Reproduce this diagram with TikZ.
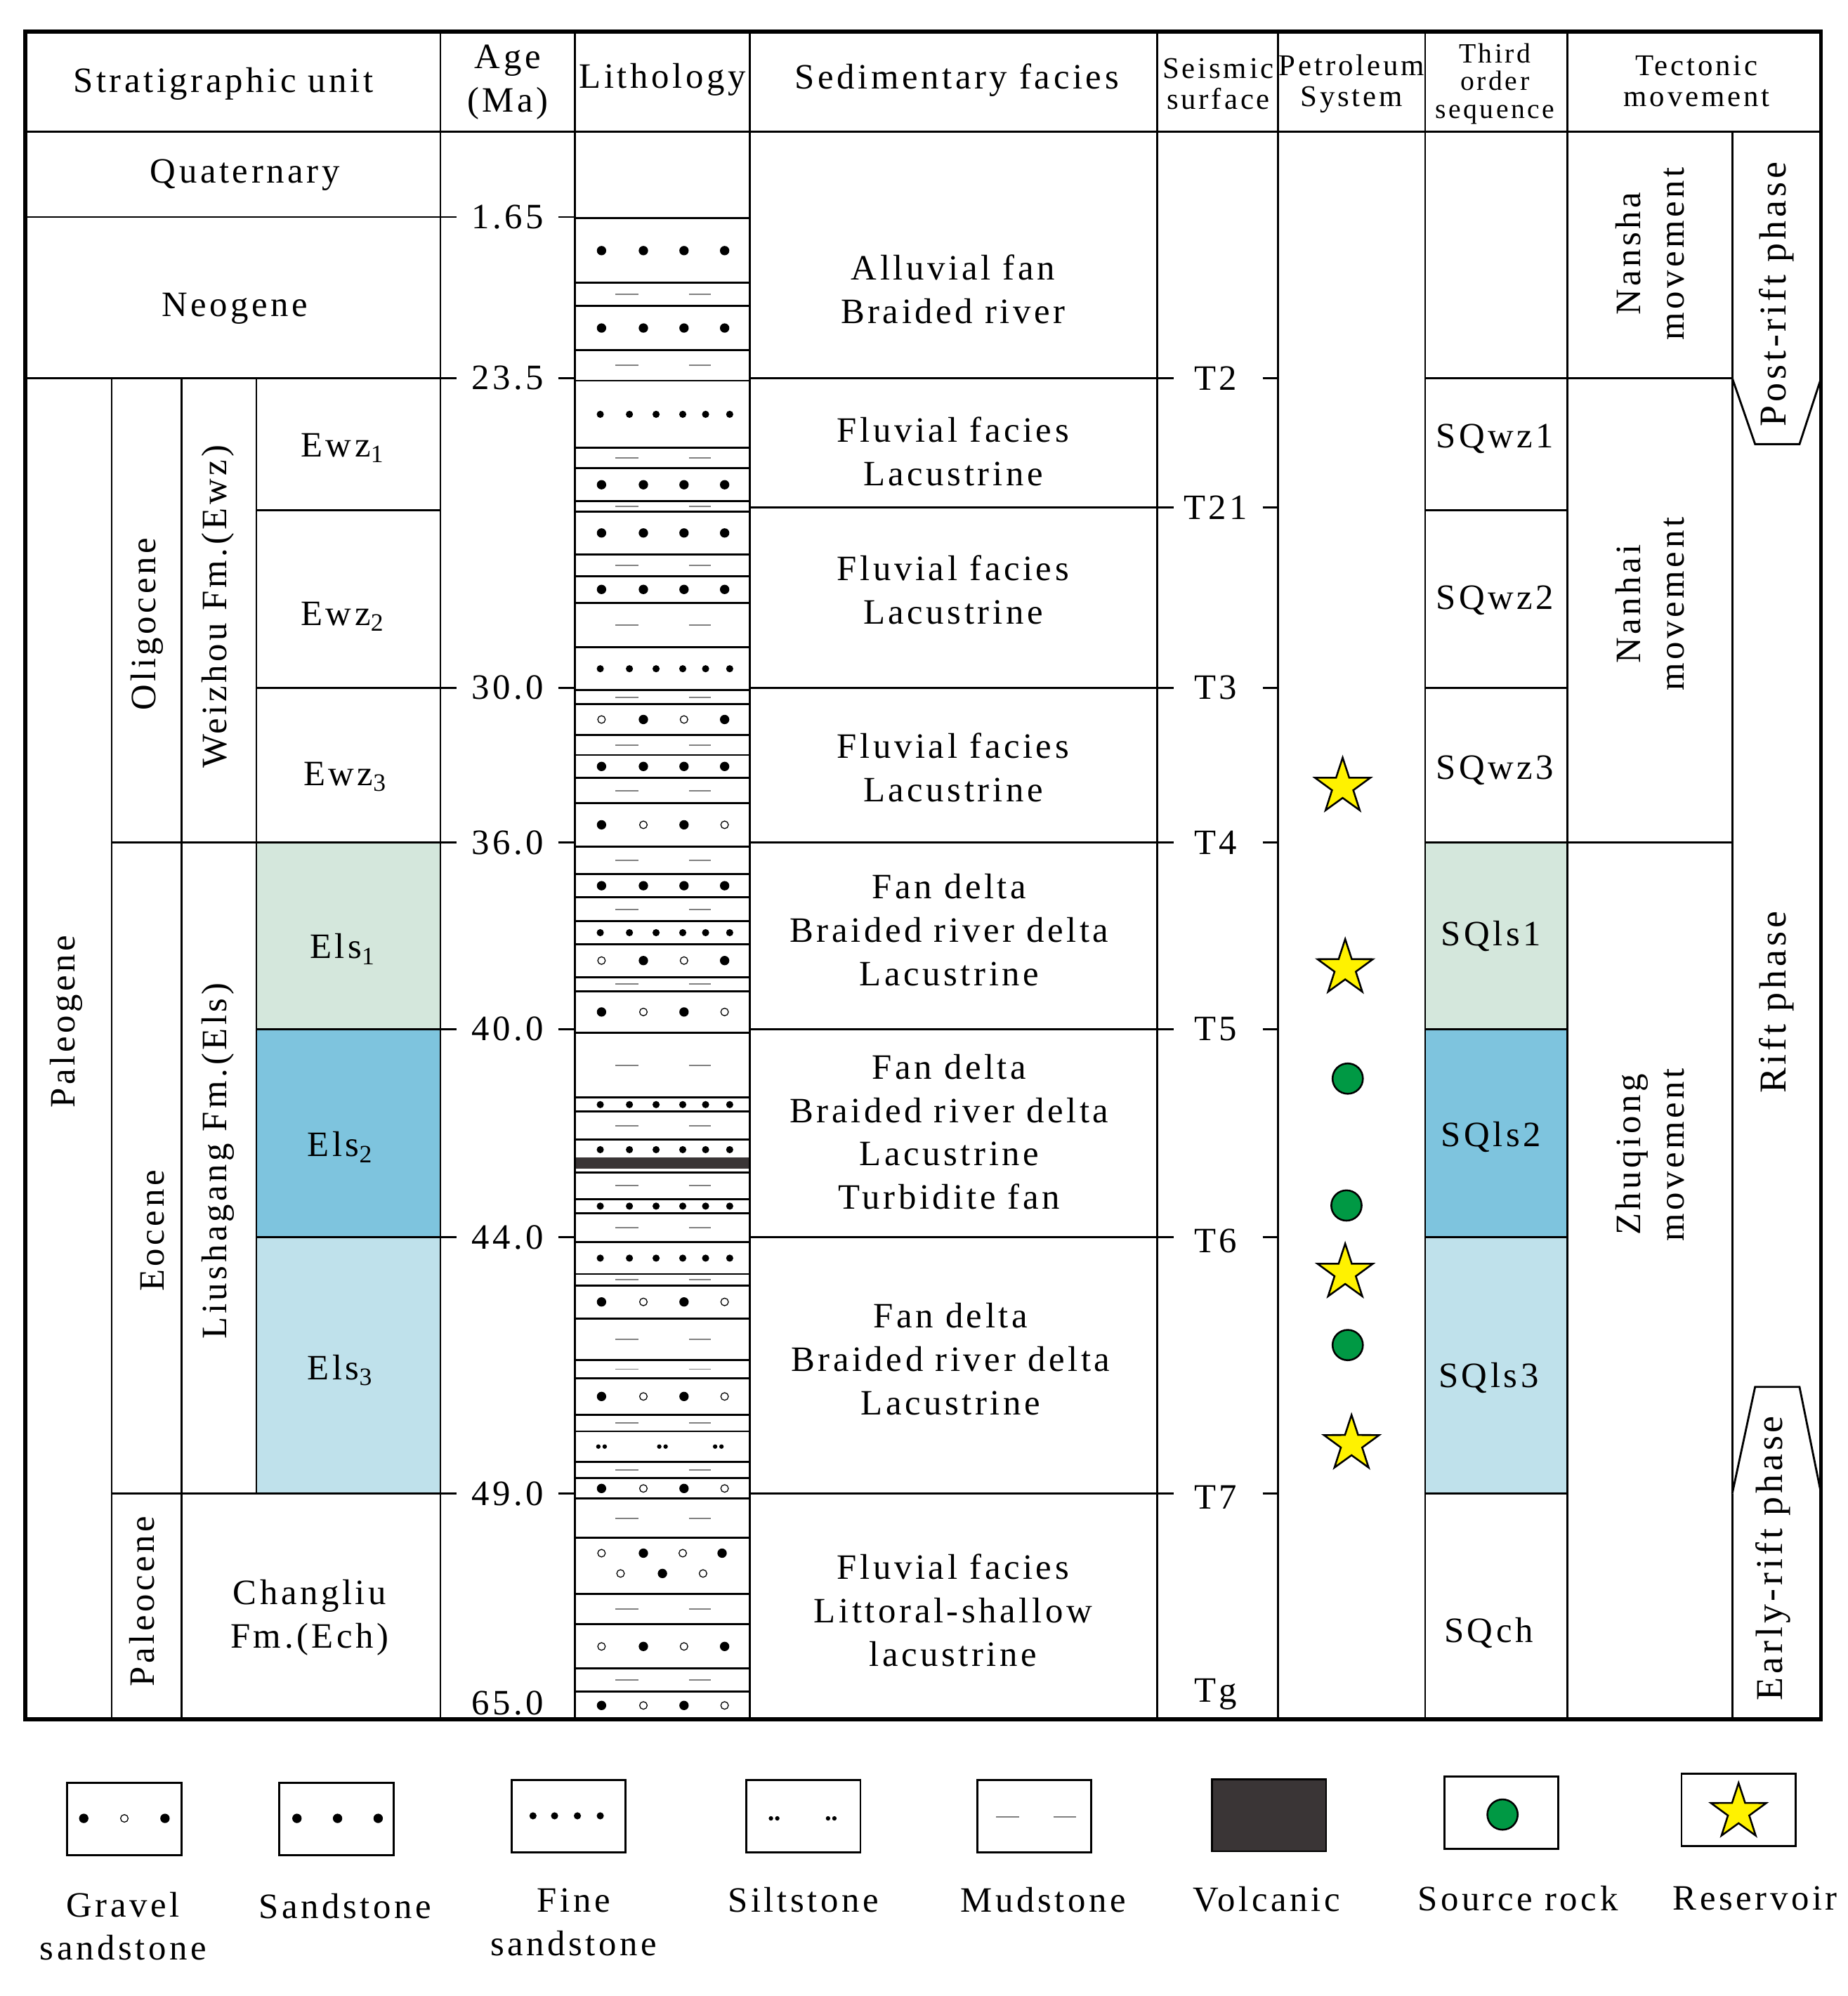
\documentclass[tikz,border=0pt]{standalone}
\usepackage{fontspec}
\setmainfont[LetterSpace=9]{Liberation Serif}
\usetikzlibrary{shapes.geometric}
\definecolor{cA}{HTML}{D4E7DC}
\definecolor{cB}{HTML}{7EC4DE}
\definecolor{cC}{HTML}{BFE1EB}
\definecolor{volc}{HTML}{3A3536}
\definecolor{srcg}{HTML}{009944}
\begin{document}
\begin{tikzpicture}[x=0.2mm,y=-0.2mm,
  thin/.style={line width=0.9pt},
  thick/.style={line width=1.7pt},
  txt/.style={font=\fontsize{16}{19.5}\selectfont,align=center,inner sep=0pt},
  htxt/.style={font=\fontsize{13.5}{14}\selectfont,align=center,inner sep=0pt},
  fd/.style={fill=black,draw=none},
  od/.style={draw=black,line width=0.4pt,fill=white},
  mud/.style={draw=gray,line width=0.6pt},
  star5/.style={star,star points=5,star point ratio=2.6,minimum size=46*0.567pt,inner sep=0pt,fill=yellow,draw=black,line width=0.8pt},
  src/.style={circle,minimum size=24*0.567pt,inner sep=0pt,fill=srcg,draw=black,line width=0.8pt}]
\useasboundingbox (0,0) rectangle (1456,1573);
% fills
\fill[cA] (202,664) rectangle (347,811);
\fill[cB] (202,811) rectangle (347,975);
\fill[cC] (202,975) rectangle (347,1177);
\fill[cA] (1123,664) rectangle (1235,811);
\fill[cB] (1123,811) rectangle (1235,975);
\fill[cC] (1123,975) rectangle (1235,1177);
% lithology patterns
\def\LL{453}\def\LR{591}
\foreach \a/\b in {172/223,241/276,369/395,403/437,454/475,595/613,689/707}{
  \draw[thin] (\LL,\a)--(\LR,\a);
  \foreach \x in {474,507,539,571}{\fill ({\x},{(\a+\b)/2}) circle (2.1pt);}}
\foreach \a/\b in {223/241,276/300,353/369,395/403,437/454,475/510,544/555,579/595,613/633,667/689,707/726,770/781,814/865,876/898,924/945,956/979,1004/1013,1039/1072,1072/1086,1115/1128,1152/1165,1181/1212,1256/1280,1315/1333}{
  \draw[thin] (\LL,\a)--(\LR,\a);
  \draw[mud] (485,{(\a+\b)/2})--(503,{(\a+\b)/2}) (543,{(\a+\b)/2})--(560,{(\a+\b)/2});}
\foreach \a/\b in {300/353,510/544,726/744,865/876,898/914,945/956,979/1004}{
  \draw[thin] (\LL,\a)--(\LR,\a);
  \foreach \x in {473,496,517,538,556,575}{\fill ({\x},{(\a+\b)/2}) circle (1.6pt);}}
\foreach \a/\b in {555/579,744/770,1280/1315}{
  \draw[thin] (\LL,\a)--(\LR,\a);
  \foreach \x in {474,539}{\draw[od] ({\x},{(\a+\b)/2}) circle (1.7pt);}
  \foreach \x in {507,571}{\fill ({\x},{(\a+\b)/2}) circle (2.1pt);}}
\foreach \a/\b in {633/667,781/814,1013/1039,1086/1115,1165/1181,1333/1355}{
  \draw[thin] (\LL,\a)--(\LR,\a);
  \foreach \x in {507,571}{\draw[od] ({\x},{(\a+\b)/2}) circle (1.7pt);}
  \foreach \x in {474,539}{\fill ({\x},{(\a+\b)/2}) circle (2.1pt);}}
\draw[thin] (\LL,1212)--(\LR,1212);
\foreach \x in {474,538}{\draw[od] (\x,1224) circle (1.7pt);}
\foreach \x in {507,569}{\fill (\x,1224) circle (2.1pt);}
\foreach \x in {489,554}{\draw[od] (\x,1240) circle (1.7pt);}
\fill (522,1240) circle (2.1pt);
\draw[thin] (\LL,1128)--(\LR,1128);
\foreach \x in {474,522,566}{\fill (\x-2.5,1140) circle (1pt); \fill (\x+2.5,1140) circle (1pt);}
\draw[thin] (\LL,914)--(\LR,914);
\fill[volc] (\LL,912) rectangle (\LR,921);
% strat lines
\draw[thin] (20,104)--(1435,104);
\draw[thin] (20,171)--(347,171) (20,298)--(347,298);
\draw[thin] (202,402)--(347,402) (202,542)--(347,542) (88,664)--(347,664)
  (202,811)--(347,811) (202,975)--(347,975) (88,1177)--(347,1177);
\draw[thin] (88,298)--(88,1355) (143,298)--(143,1355) (202,298)--(202,1177);
\foreach \x in {347,453,591,912,1007,1123,1235}{\draw[thin] (\x,25)--(\x,1355);}
\draw[thin] (1365,104)--(1365,1355);
\foreach \y in {298,400,542,664,811,975,1177}{
  \draw[thin] (591,\y)--(925,\y) (995,\y)--(1007,\y);}
\foreach \y in {298,402,542,664,811,975,1177}{\draw[thin] (1123,\y)--(1235,\y);}
\draw[thin] (1235,298)--(1365,298) (1235,664)--(1365,664);
\foreach \y in {171,298,542,664,811,975,1177}{\draw[thin] (347,\y)--(360,\y) (440,\y)--(453,\y);}
\draw[thin,fill=white] (1365,298)--(1383,350)--(1418,350)--(1435,298);
\draw[thin,fill=white] (1365,1177)--(1383,1093)--(1418,1093)--(1435,1177);
\draw[thick] (20,25) rectangle (1435,1355);
% header
\node[txt] (h1) at (176,66) {Stratigraphic unit};
\node[txt] (h2) at (400,65) {Age\\(Ma)};
\node[txt] (h3) at (522,63) {Lithology};
\node[txt] (h4) at (754,63) {Sedimentary facies};
\node[htxt] (h5) at (960,66) {Seismic\\surface};
\node[htxt] (h6) at (1065,66) {Petroleum\\System};
\node[htxt,font=\fontsize{12.5}{12.5}\selectfont] (h7) at (1178,66) {Third\\order\\sequence};
\node[htxt] (h8) at (1337,64) {Tectonic\\movement};
% ages
\foreach \t/\y [count=\i] in {1.65/171,23.5/298,30.0/542,36.0/664,40.0/811,44.0/975,49.0/1177,65.0/1342}{
  \node[txt,fill=white,inner sep=1pt] (age\i) at (400,\y) {\t};}
\foreach \t/\y [count=\i] in {T2/298,T21/400,T3/542,T4/664,T5/811,T6/978,T7/1180,Tg/1335}{
  \node[txt,fill=white,inner sep=1pt] (ts\i) at (958,\y) {\t};}
% facies
\node[txt] (f1) at (751,228) {Alluvial fan\\Braided river};
\node[txt] (f2) at (751,356) {Fluvial facies\\Lacustrine};
\node[txt] (f3) at (751,465) {Fluvial facies\\Lacustrine};
\node[txt] (f4) at (751,605) {Fluvial facies\\Lacustrine};
\node[txt] (f5) at (748,733) {Fan delta\\Braided river delta\\Lacustrine};
\node[txt] (f6) at (748,892) {Fan delta\\Braided river delta\\Lacustrine\\Turbidite fan};
\node[txt] (f7) at (749,1071) {Fan delta\\Braided river delta\\Lacustrine};
\node[txt] (f8) at (751,1269) {Fluvial facies\\Littoral-shallow\\lacustrine};
% sequences
\node[txt] (s1) at (1178,346) {SQwz1};
\node[txt] (s2) at (1178,473) {SQwz2};
\node[txt] (s3) at (1178,607) {SQwz3};
\node[txt] (s4) at (1175,738) {SQls1};
\node[txt] (s5) at (1175,896) {SQls2};
\node[txt] (s6) at (1173,1086) {SQls3};
\node[txt] (s7) at (1173,1287) {SQch};
% strat units
\node[txt] (u1) at (193,138) {Quaternary};
\node[txt] (u2) at (185,243) {Neogene};
\node[txt,rotate=90] (u3) at (52,805) {Paleogene};
\node[txt,rotate=90] (u4) at (116,492) {Oligocene};
\node[txt,rotate=90] (u5) at (120,970) {Eocene};
\node[txt,rotate=90] (u6) at (112,1262) {Paleocene};
\node[txt,rotate=90] (u7) at (172,478) {Weizhou Fm.(Ewz)};
\node[txt,rotate=90] (u8) at (172,915) {Liushagang Fm.(Els)};
\node[txt] (u9) at (270,353) {Ewz\textsubscript{1}};
\node[txt] (u10) at (270,486) {Ewz\textsubscript{2}};
\node[txt] (u11) at (272,612) {Ewz\textsubscript{3}};
\node[txt] (u12) at (270,748) {Els\textsubscript{1}};
\node[txt] (u13) at (268,904) {Els\textsubscript{2}};
\node[txt] (u14) at (268,1080) {Els\textsubscript{3}};
\node[txt] (u15) at (244,1275) {Changliu\\Fm.(Ech)};
% tectonic
\node[txt,rotate=90] (m1) at (1300,200) {Nansha\\movement};
\node[txt,rotate=90] (m2) at (1300,476) {Nanhai\\movement};
\node[txt,rotate=90] (m3) at (1300,910) {Zhuqiong\\movement};
\node[txt,rotate=90,font=\fontsize{17}{19}\selectfont] (p1) at (1400,232) {Post-rift phase};
\node[txt,rotate=90,font=\fontsize{17}{19}\selectfont] (p2) at (1400,790) {Rift phase};
\node[txt,rotate=90,font=\fontsize{17}{19}\selectfont] (p3) at (1397,1228) {Early-rift phase};
% petroleum
\node[star5] (r1) at (1058,620) {};
\node[star5] (r2) at (1060,763) {};
\node[star5] (r3) at (1060,1003) {};
\node[star5] (r4) at (1065,1138) {};
\node[src] (c1) at (1062,850) {};
\node[src] (c2) at (1061,950) {};
\node[src] (c3) at (1062,1060) {};
% legend
\draw[thin] (53,1405) rectangle (143,1462);
\fill (66,1433) circle (2.1pt); \draw[od] (98,1433) circle (1.7pt); \fill (130,1433) circle (2.1pt);
\draw[thin] (220,1405) rectangle (310,1462);
\foreach \x in {234,266,298}{\fill (\x,1433) circle (2.1pt);}
\draw[thin] (403,1403) rectangle (493,1460);
\foreach \x in {420,437,455,473}{\fill (\x,1431) circle (1.6pt);}
\draw[thin] (588,1403) rectangle (678,1460);
\foreach \x in {610,655}{\fill (\x-2.5,1433) circle (1pt); \fill (\x+2.5,1433) circle (1pt);}
\draw[thin] (770,1403) rectangle (860,1460);
\draw[mud] (785,1432)--(803,1432) (830,1432)--(848,1432);
\draw[thin,fill=volc] (955,1402) rectangle (1045,1459);
\draw[thin] (1138,1400) rectangle (1228,1457);
\node[src] (lc) at (1184,1430) {};
\draw[thin] (1325,1398) rectangle (1415,1455);
\node[star5] (ls) at (1370,1428) {};
\node[txt] (l1) at (97,1518) {Gravel\\sandstone};
\node[txt] (l2) at (272,1502) {Sandstone};
\node[txt] (l3) at (452,1515) {Fine\\sandstone};
\node[txt] (l4) at (633,1497) {Siltstone};
\node[txt] (l5) at (822,1497) {Mudstone};
\node[txt] (l6) at (998,1497) {Volcanic};
\node[txt] (l7) at (1196,1496) {Source rock};
\node[txt] (l8) at (1383,1496) {Reservoir};
\end{tikzpicture}
\end{document}
